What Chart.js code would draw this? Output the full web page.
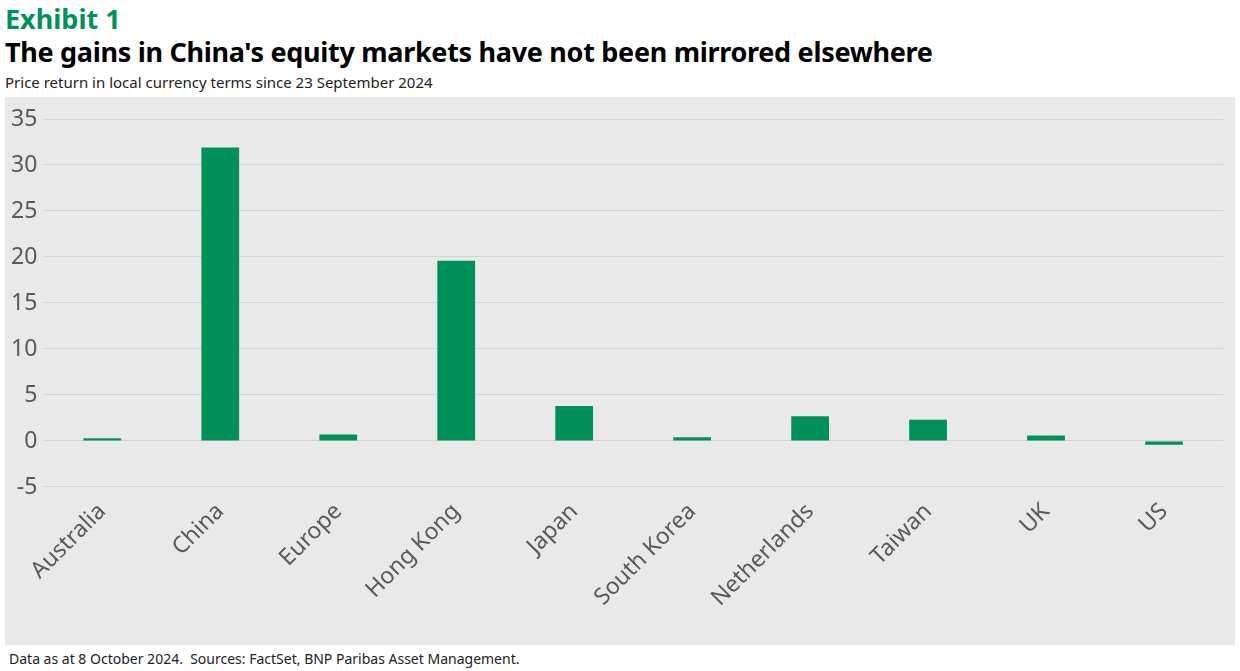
<!DOCTYPE html>
<html><head><meta charset="utf-8">
<script src="https://cdn.jsdelivr.net/npm/chart.js@4"></script>
<style>
body{margin:0;background:#fff;font-family:"Noto Sans",sans-serif;}
#h1{position:absolute;left:5px;top:0px;font:bold 27px "Noto Sans";color:#00915A;}
#h2{position:absolute;left:5px;top:33px;font:bold 27px "Noto Sans";color:#000;letter-spacing:-0.3px;}
#sub{position:absolute;left:5px;top:72px;font:15px "Noto Sans";color:#222;}
#box{position:absolute;left:5px;top:97px;width:1230px;height:548px;background:#e9e9e9;}
#foot{position:absolute;left:9px;top:649px;font:14px "Noto Sans";color:#222;}
</style></head><body>
<div id="h1">Exhibit 1</div>
<div id="h2">The gains in China's equity markets have not been mirrored elsewhere</div>
<div id="sub">Price return in local currency terms since 23 September 2024</div>
<div id="box"><canvas id="c" width="1230" height="548"></canvas></div>
<div id="foot">Data as at 8 October 2024.&nbsp; Sources: FactSet, BNP Paribas Asset Management.</div>
<script>
const categories = ["Australia","China","Europe","Hong Kong","Japan","South Korea","Netherlands","Taiwan","UK","US"];
const returns = [0.3, 31.9, 0.7, 19.6, 3.8, 0.4, 2.7, 2.3, 0.6, -0.4];

new Chart(document.getElementById('c'), {
  type: 'bar',
  data: { labels: categories, datasets: [{ data: returns, backgroundColor: '#00915A', barPercentage: 0.32, categoryPercentage: 1 }] },
  options: {
    responsive: false, animation: false,
    layout: { padding: { top: 22, right: 12, left: 0, bottom: 30 } },
    plugins: { legend: { display: false }, tooltip: { enabled: false } },
    scales: {
      y: { min: -5, max: 35, ticks: { stepSize: 5, color: '#595959', font: { size: 23, family: 'Noto Sans' }, padding: 6 },
           grid: { color: '#d4d4d4', drawTicks: false }, border: { display: false } },
      x: { ticks: { color: '#595959', font: { size: 23, family: 'Noto Sans' }, maxRotation: 45, minRotation: 45 },
           grid: { display: false }, border: { display: false } }
    }
  }
});
</script>
</body></html>
